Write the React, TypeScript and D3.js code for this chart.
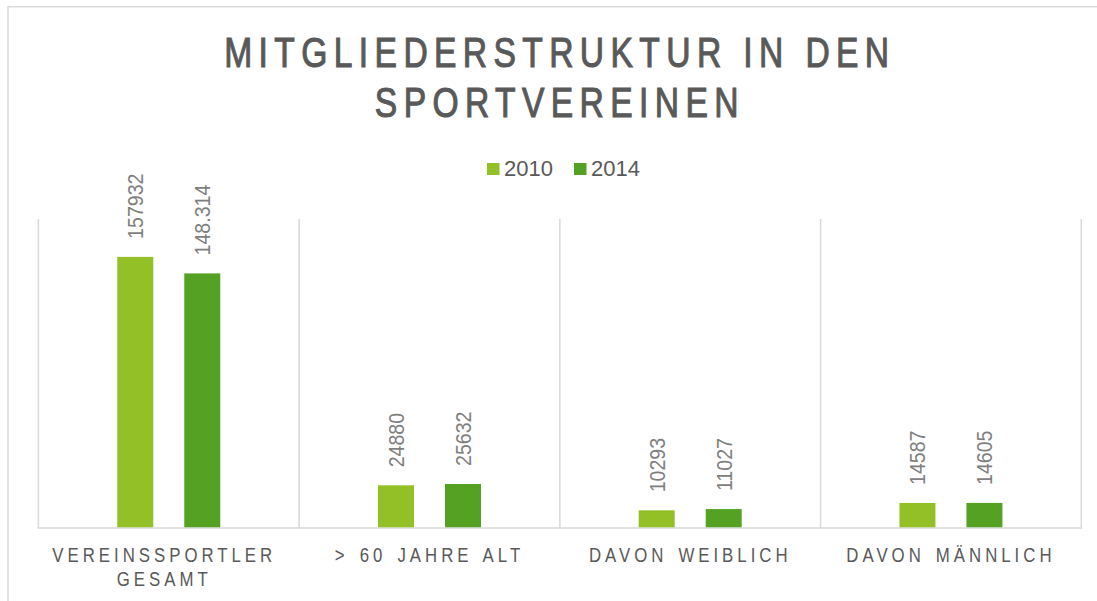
import React from "react";
import * as d3 from "d3";

const categories: string[][] = [
  ["VEREINSSPORTLER", "GESAMT"],
  ["> 60 JAHRE ALT"],
  ["DAVON WEIBLICH"],
  ["DAVON MÄNNLICH"],
];
const seriesNames = ["2010", "2014"];
const values2010 = [157932, 24880, 10293, 14587];
const values2014 = [148314, 25632, 11027, 14605];
const labels2010 = ["157932", "24880", "10293", "14587"];
const labels2014 = ["148.314", "25632", "11027", "14605"];
const colors = ["#92C026", "#55A124"];
const titleLines = ["MITGLIEDERSTRUKTUR IN DEN", "SPORTVEREINEN"];
const yMax = 180000;

const W = 1097;
const H = 601;
const plot = { left: 38.4, right: 1081.3, top: 219, bottom: 528 };
const FONT = "'Liberation Sans', Arial, sans-serif";
const TEXT = "#595959";
const GRID = "#D9D9D9";

export default function App() {
  const catKeys = categories.map((c) => c.join(" "));
  const x = d3.scaleBand<string>().domain(catKeys).range([plot.left, plot.right]).paddingInner(0).paddingOuter(0);
  const xs = d3
    .scaleBand<string>()
    .domain(seriesNames)
    .range([0, x.bandwidth()])
    .paddingInner(0.463)
    .paddingOuter(1.177);
  const y = d3.scaleLinear().domain([0, yMax]).range([plot.bottom, plot.top]);
  const series = [
    { name: seriesNames[0], values: values2010, labels: labels2010, color: colors[0] },
    { name: seriesNames[1], values: values2014, labels: labels2014, color: colors[1] },
  ];
  const boundaries = [...catKeys.map((k) => x(k)!), plot.right];
  const cx = (plot.left + plot.right) / 2 - 1;

  return (
    <svg width={W} height={H} style={{ position: "absolute", left: 0, top: 0, background: "#fff" }}>
      {/* outer chart border */}
      <rect x={8} y={6.7} width={W + 10} height={H + 10} fill="none" stroke={GRID} strokeWidth={1.5} />
      {/* title */}
      {titleLines.map((t, i) => (
        <text
          key={i}
          transform={`translate(${cx + 1},${67 + i * 50}) scale(0.8,1)`}
          textAnchor="middle"
          fontFamily={FONT}
          fontSize={42}
          letterSpacing={8}
          fill={TEXT}
          stroke={TEXT}
          strokeWidth={1.1}
        >
          {t}
        </text>
      ))}
      {/* legend */}
      {series.map((s, i) => {
        const lx = 487 + i * 87;
        return (
          <g key={s.name}>
            <rect x={lx} y={163} width={12.5} height={12} fill={s.color} />
            <text x={lx + 17} y={176} fontFamily={FONT} fontSize={22} fill={TEXT}>
              {s.name}
            </text>
          </g>
        );
      })}
      {/* category separators */}
      {boundaries.map((bx, i) => (
        <line key={i} x1={bx} x2={bx} y1={plot.top} y2={plot.bottom} stroke={GRID} strokeWidth={1.5} />
      ))}
      <line x1={plot.left - 0.75} x2={plot.right + 0.75} y1={plot.bottom} y2={plot.bottom} stroke={GRID} strokeWidth={1.5} />
      {/* bars */}
      {series.map((s) =>
        catKeys.map((k, ci) => {
          const bx = x(k)! + xs(s.name)!;
          const by = y(s.values[ci]);
          return (
            <rect key={s.name + k} x={bx} y={by} width={xs.bandwidth()} height={plot.bottom - 0.75 - by} fill={s.color} />
          );
        })
      )}
      {/* data labels */}
      {series.map((s) =>
        catKeys.map((k, ci) => {
          const bc = x(k)! + xs(s.name)! + xs.bandwidth() / 2;
          const by = y(s.values[ci]);
          return (
            <text
              key={"l" + s.name + k}
              transform={`translate(${bc + 8},${by - 18}) rotate(-90) scale(0.89,1)`}
              fontFamily={FONT}
              fontSize={22}
              fill="#7F7F7F"
            >
              {s.labels[ci]}
            </text>
          );
        })
      )}
      {/* category labels */}
      {categories.map((lines, ci) =>
        lines.map((ln, li) => (
          <text
            key={ci + "-" + li}
            transform={`translate(${x(catKeys[ci])! + x.bandwidth() / 2 + (lines.length > 1 ? -4.5 : 0)},${562 + li * 24}) scale(0.8,1)`}
            textAnchor="middle"
            fontFamily={FONT}
            fontSize={21}
            letterSpacing={5}
            wordSpacing={3}
            fill={TEXT}
          >
            {ln}
          </text>
        ))
      )}
    </svg>
  );
}
